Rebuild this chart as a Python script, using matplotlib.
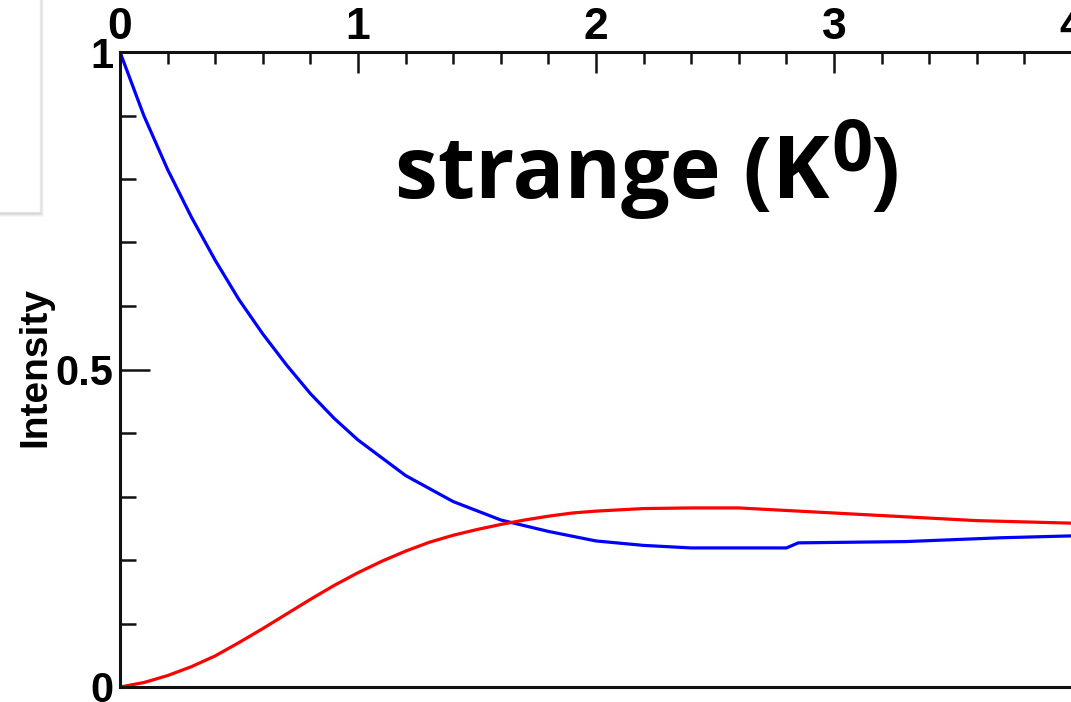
import matplotlib
matplotlib.use("Agg")
import matplotlib.pyplot as plt
from matplotlib.patches import Rectangle
from matplotlib.ticker import MultipleLocator, FixedLocator, FixedFormatter

# ---- data ----
blue_t = [0.0, 0.1, 0.2, 0.3, 0.4, 0.5, 0.6, 0.7, 0.8, 0.9, 1.0, 1.2, 1.4,
          1.6, 1.8, 2.0, 2.2, 2.4, 2.8, 2.85, 3.3, 3.7, 4.0, 4.2]
blue_i = [1.0, 0.90, 0.815, 0.740, 0.672, 0.610, 0.556, 0.507, 0.462, 0.423,
          0.389, 0.333, 0.292, 0.263, 0.245, 0.230, 0.223, 0.219, 0.219, 0.227,
          0.229, 0.235, 0.238, 0.239]

red_t = [0.0, 0.1, 0.2, 0.3, 0.4, 0.5, 0.6, 0.7, 0.8, 0.9, 1.0, 1.1, 1.2, 1.3,
         1.4, 1.5, 1.6, 1.7, 1.8, 1.9, 2.0, 2.2, 2.4, 2.6, 2.8, 3.0, 3.3, 3.6,
         4.0, 4.2]
red_i = [0.0, 0.007, 0.018, 0.032, 0.049, 0.070, 0.092, 0.115, 0.138, 0.160,
         0.180, 0.198, 0.214, 0.228, 0.239, 0.248, 0.256, 0.263, 0.269, 0.274,
         0.277, 0.281, 0.282, 0.282, 0.278, 0.274, 0.268, 0.262, 0.258, 0.257]

x_ticks = [0, 1, 2, 3, 4]
x_ticklabels = ["0", "1", "2", "3", "4"]
y_ticks = [0, 0.5, 1]
y_ticklabels = ["0", "0.5", "1"]
y_label = "Intensity"
title_main = "strange (K"
title_sup = "0"
title_close = ")"

W, H = 1071, 702
DPI = 100
fig = plt.figure(figsize=(W / DPI, H / DPI), dpi=DPI)
fig.patch.set_facecolor("white")

# axes geometry (pixels)
left_px, top_px, bottom_px = 120, 52, 687
px_per_unit = 238
xmax = 4.2
ax = fig.add_axes([left_px / W, (H - bottom_px) / H,
                   xmax * px_per_unit / W, (bottom_px - top_px) / H])
ax.set_xlim(0, xmax)
ax.set_ylim(0, 1)

ax.plot(blue_t, blue_i, color="#0000ff", lw=2.3, clip_on=True)
ax.plot(red_t, red_i, color="#ff0000", lw=2.3, clip_on=True)

for s in ["left", "top", "bottom"]:
    ax.spines[s].set_linewidth(2.2)
    ax.spines[s].set_color("#111111")
ax.spines["right"].set_visible(False)

ax.xaxis.set_major_locator(FixedLocator(x_ticks))
ax.xaxis.set_major_formatter(FixedFormatter(x_ticklabels))
ax.xaxis.set_minor_locator(MultipleLocator(0.2))
ax.yaxis.set_major_locator(FixedLocator(y_ticks))
ax.yaxis.set_major_formatter(FixedFormatter(y_ticklabels))
ax.yaxis.set_minor_locator(MultipleLocator(0.1))

ax.tick_params(axis="x", which="both", direction="in", top=True, bottom=False,
               labeltop=True, labelbottom=False, width=1.8, color="#111111")
ax.tick_params(axis="x", which="major", length=15, pad=3, labelsize=32)
ax.tick_params(axis="x", which="minor", length=8.5)
ax.tick_params(axis="y", which="both", direction="in", left=True, right=False,
               width=1.8, color="#111111")
ax.tick_params(axis="y", which="major", length=21.5, pad=5, labelsize=30)
ax.tick_params(axis="y", which="minor", length=11.5)
for lab in ax.get_xticklabels() + ax.get_yticklabels():
    lab.set_fontfamily("Liberation Sans")
    lab.set_fontweight("bold")

fig.text(35 / W, 1 - 367 / H, y_label, rotation=90, ha="center", va="center",
         fontsize=28, fontweight="bold", family="Liberation Sans")

# title-like annotation inside the plot
tx = (395 - left_px) / px_per_unit
ty = (bottom_px - 198) / (bottom_px - top_px)
t1 = ax.text(tx, ty, title_main, fontsize=62, fontweight="bold",
             family="Open Sans", ha="left", va="baseline", color="black")
fig.canvas.draw()
r = fig.canvas.get_renderer()
bb1 = t1.get_window_extent(r)
base_y = ax.transData.transform((tx, ty))[1]
inv = fig.transFigure.inverted()
p2 = inv.transform((bb1.x1 + 2, base_y + 27))
t2 = fig.text(p2[0], p2[1], title_sup, fontsize=52, fontweight="bold",
              family="Open Sans", ha="left", va="baseline", color="black")
fig.canvas.draw()
bb2 = t2.get_window_extent(r)
p3 = inv.transform((bb2.x1 - 2, base_y))
fig.text(p3[0], p3[1], title_close, fontsize=62, fontweight="bold",
         family="Open Sans", ha="left", va="baseline", color="black")

# grey panel cut at top-left, with a soft shadow (display pixels, origin bottom-left)
for i, a in enumerate([0.03, 0.04, 0.05, 0.06]):
    off = 4 - i
    fig.patches.append(Rectangle((-10, H - (213 + off)), 50 + off, 223 + off,
                                 transform=None, facecolor="#000000", alpha=a,
                                 edgecolor="none", zorder=0.5))
fig.patches.append(Rectangle((-10, H - 212), 50, 222, transform=None,
                             facecolor="white", edgecolor="#e6e6e6", lw=1.0,
                             zorder=0.6))

fig.savefig("out.png", dpi=DPI, facecolor="white")
